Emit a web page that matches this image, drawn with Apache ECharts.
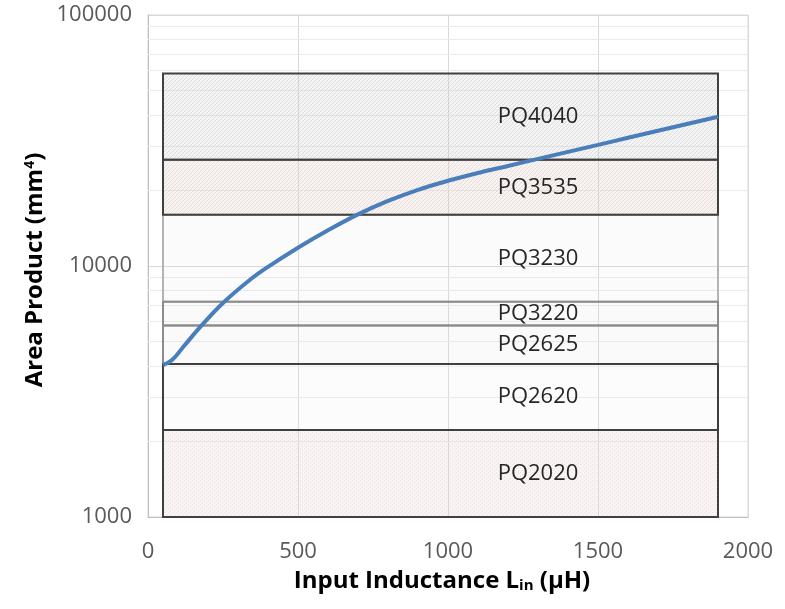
<!DOCTYPE html>
<html>
<head>
<meta charset="utf-8">
<script src="https://cdn.jsdelivr.net/npm/echarts@6/dist/echarts.min.js"></script>
<style>
  html, body { margin: 0; padding: 0; background: #fff; }
  #chart { width: 785px; height: 609px; }
</style>
</head>
<body>
<div id="chart"></div>
<script>
// Required area product versus input inductance
const inductance = [50, 80, 120, 175, 250, 340, 400, 500, 600, 700, 800, 900, 1000, 1100, 1200, 1300, 1400, 1500, 1600, 1700, 1800, 1900];
const areaProduct = [4030, 4220, 4800, 5730, 7120, 8810, 9920, 11830, 13880, 16060, 18170, 20120, 21850, 23480, 25040, 26710, 28490, 30380, 32410, 34570, 36870, 39330];

// PQ core bands (area product range of each core)
const coreNames = ['PQ3230', 'PQ3220', 'PQ2625', 'PQ4040', 'PQ3535', 'PQ2620', 'PQ2020'];
const coreLow   = [7200, 5800, 4070, 26500, 16000, 2220, 1000];
const coreHigh  = [16000, 7200, 5800, 58500, 26500, 4070, 2220];
const bandStart = 50;
const bandEnd = 1900;
const labelX = 1300;

// Axis ticks
const xTicks = [0, 500, 1000, 1500, 2000];
const yTicks = [1000, 10000, 100000];

// minor log gridlines: 2..9 within each decade
const minorGrid = [];
for (let d = 1000; d < 100000; d *= 10) {
  for (let m = 2; m <= 9; m++) minorGrid.push(d * m);
}

function makePattern(base, ink, kind) {
  const c = document.createElement('canvas');
  c.width = 4; c.height = 4;
  const g = c.getContext('2d');
  g.fillStyle = base;
  g.fillRect(0, 0, 4, 4);
  g.fillStyle = ink;
  if (kind === 'hatch') {
    for (let i = 0; i < 4; i++) g.fillRect(i, 3 - i, 1, 1);
  } else if (kind === 'dots') {
    g.fillRect(0, 0, 1, 1);
    g.fillRect(2, 2, 1, 1);
  }
  return { image: c, repeat: 'repeat' };
}

const fills = {
  PQ3230: 'rgba(225,225,225,0.12)',
  PQ3220: 'rgba(225,225,225,0.16)',
  PQ2625: 'rgba(225,225,225,0.16)',
  PQ4040: makePattern('rgba(215,215,215,0.28)', 'rgba(150,150,150,0.25)', 'hatch'),
  PQ3535: makePattern('rgba(232,212,208,0.30)', 'rgba(175,160,158,0.25)', 'hatch'),
  PQ2620: 'rgba(238,238,238,0.15)',
  PQ2020: makePattern('rgba(236,214,214,0.30)', 'rgba(190,170,170,0.22)', 'dots')
};
const borders = {
  PQ3230: '#b3b3b3', PQ3220: '#8c8c8c', PQ2625: '#8c8c8c',
  PQ4040: '#404040', PQ3535: '#404040', PQ2620: '#404040', PQ2020: '#404040'
};

const chart = echarts.init(document.getElementById('chart'), null, { renderer: 'canvas' });

const boxData = coreNames.map((n, i) => [bandStart, bandEnd, coreLow[i], coreHigh[i], i]);

const option = {
  backgroundColor: '#ffffff',
  animation: false,
  grid: {
    left: 148, top: 15, width: 600, height: 502,
    show: true, borderColor: '#d9d9d9', borderWidth: 1, backgroundColor: 'transparent'
  },
  xAxis: {
    type: 'value', min: 0, max: 2000, interval: 500,
    axisLine: { show: true, lineStyle: { color: '#bfbfbf', width: 1 } },
    axisTick: { show: false },
    axisLabel: { color: '#595959', fontFamily: 'Open Sans', fontSize: 22, margin: 24, formatter: v => String(v) },
    splitLine: { show: true, lineStyle: { color: '#d9d9d9', width: 1 } }
  },
  yAxis: {
    type: 'log', logBase: 10, min: 1000, max: 100000, splitNumber: 2,
    axisLine: { show: true, lineStyle: { color: '#bfbfbf', width: 1 } },
    axisTick: { show: false },
    axisLabel: { color: '#595959', fontFamily: 'Open Sans', fontSize: 22, margin: 16, formatter: v => String(Math.round(v)) },
    splitLine: { show: true, lineStyle: { color: '#d9d9d9', width: 1 } }
  },
  graphic: [
    {
      type: 'text', x: 35, y: 270, rotation: Math.PI / 2,
      style: {
        text: 'Area Product (mm{sup|4})',
        fill: '#000', font: 'bold 24px "Open Sans"',
        align: 'center', verticalAlign: 'middle',
        rich: { sup: { fontSize: 14, fontWeight: 'bold', fontFamily: 'Open Sans', fill: '#000', verticalAlign: 'top', padding: [0, 0, 10, 0] } }
      }
    },
    {
      type: 'text', x: 442, y: 581,
      style: {
        text: 'Input Inductance L{sub|in} (µH)',
        fill: '#000', font: 'bold 24px "Open Sans"',
        align: 'center', verticalAlign: 'middle',
        rich: { sub: { fontSize: 15, fontWeight: 'bold', fontFamily: 'Open Sans', fill: '#000', verticalAlign: 'bottom', padding: [8, 0, 0, 0] } }
      }
    }
  ],
  series: [
    {
      // minor gridlines of the log axis
      type: 'line', data: [], silent: true, z: 1,
      markLine: {
        z: 1, silent: true, symbol: 'none', label: { show: false },
        lineStyle: { color: '#ebebeb', width: 1, type: 'solid' },
        data: minorGrid.map(v => ({ yAxis: v }))
      }
    },
    {
      type: 'custom', z: 5, silent: true,
      data: boxData,
      renderItem: function (params, api) {
        const i = api.value(4);
        const name = coreNames[i];
        const p0 = api.coord([api.value(0), api.value(3)]);
        const p1 = api.coord([api.value(1), api.value(2)]);
        const mid = Math.sqrt(api.value(2) * api.value(3));
        const lp = api.coord([labelX, mid]);
        return {
          type: 'group',
          children: [
            {
              type: 'rect',
              shape: { x: p0[0], y: p0[1], width: p1[0] - p0[0], height: p1[1] - p0[1] },
              style: { fill: fills[name], stroke: borders[name], lineWidth: 2 }
            },
            {
              type: 'text', x: lp[0], y: lp[1], z2: 10,
              style: { text: name, fill: '#262626', font: '22px "Open Sans"', align: 'center', verticalAlign: 'middle' }
            }
          ]
        };
      }
    },
    {
      type: 'line', z: 6,
      data: inductance.map((x, i) => [x, areaProduct[i]]),
      smooth: 0.4, showSymbol: false,
      lineStyle: { color: '#4a7ebb', width: 4 }
    }
  ]
};
chart.setOption(option);
</script>
</body>
</html>
